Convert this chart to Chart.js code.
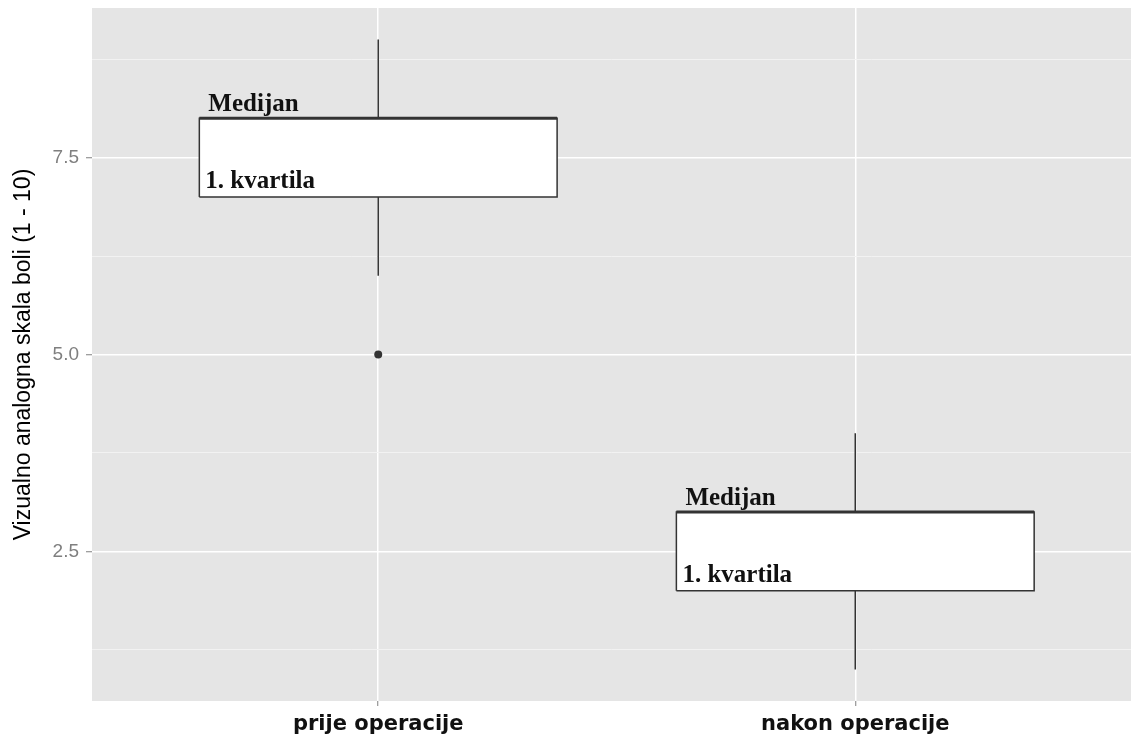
<!DOCTYPE html>
<html>
<head>
<meta charset="utf-8">
<script src="https://cdn.jsdelivr.net/npm/chart.js@4.4.1/dist/chart.umd.min.js"></script>
<style>
  html, body { margin: 0; padding: 0; background: #fff; }
  #wrap { width: 1135px; height: 735px; }
</style>
</head>
<body>
<div id="wrap"><canvas id="chart-box" width="1135" height="735"></canvas></div>
<script>
// Data
const categories = ['prije operacije', 'nakon operacije'];
const whiskerLow = [6, 1];
const q1 = [7, 2];
const median = [8, 3];
const q3 = [8, 3];
const whiskerHigh = [9, 4];
const outliers = [[5], []];

const medianLabel = 'Medijan';
const quartileLabel = '1. kvartila';

const yMajorTicks = [2.5, 5.0, 7.5];
const yMinorTicks = [1.25, 3.75, 6.25, 8.75];

const boxHalf = 0.375; // ggplot-ish box width 0.75
const dark = '#333333';

// build datasets from the arrays above
const boxData = [], medianData = [], whiskerData = [], outlierData = [];
categories.forEach((c, i) => {
  const x = i + 1;
  boxData.push({x: x - boxHalf, y: q1[i]}, {x: x + boxHalf, y: q1[i]},
    {x: x + boxHalf, y: q3[i]}, {x: x - boxHalf, y: q3[i]}, {x: x - boxHalf, y: q1[i]}, {x: x, y: null});
  medianData.push({x: x - boxHalf, y: median[i]}, {x: x + boxHalf, y: median[i]}, {x: x, y: null});
  whiskerData.push({x: x, y: q3[i]}, {x: x, y: whiskerHigh[i]}, {x: x, y: null},
    {x: x, y: whiskerLow[i]}, {x: x, y: q1[i]}, {x: x, y: null});
  outliers[i].forEach(v => outlierData.push({x: x, y: v}));
});

// grey panel behind the plot
const panelBg = {
  id: 'panelBg',
  beforeDraw(chart) {
    const {ctx, chartArea: a} = chart;
    ctx.save();
    ctx.fillStyle = '#E5E5E5';
    ctx.fillRect(a.left, a.top, a.right - a.left, a.bottom - a.top);
    ctx.restore();
  }
};

// "Medijan" / "1. kvartila" notes on each box
const boxNotes = {
  id: 'boxNotes',
  afterDatasetsDraw(chart) {
    const {ctx, scales: {x, y}} = chart;
    ctx.save();
    ctx.font = 'bold 25px "Liberation Serif", "DejaVu Serif", serif';
    ctx.fillStyle = '#111';
    ctx.textBaseline = 'alphabetic';
    categories.forEach((c, i) => {
      const left = x.getPixelForValue(i + 1 - boxHalf);
      ctx.fillText(medianLabel, left + 9, y.getPixelForValue(median[i]) - 7);
      ctx.fillText(quartileLabel, left + 6, y.getPixelForValue(q1[i]) - 9);
    });
    ctx.restore();
  }
};

const ctx = document.getElementById('chart-box').getContext('2d');
const painChart = new Chart(ctx, {
  type: 'scatter',
  data: {
    datasets: [
      {
        label: 'outliers',
        data: outlierData,
        showLine: false,
        pointRadius: 4,
        pointBackgroundColor: dark,
        pointBorderWidth: 0,
        order: 0,
      },
      {
        label: 'median',
        data: medianData,
        showLine: true,
        spanGaps: false,
        borderColor: dark,
        borderWidth: 3,
        pointRadius: 0,
        order: 1,
      },
      {
        label: 'box',
        data: boxData,
        showLine: true,
        spanGaps: false,
        borderColor: dark,
        borderWidth: 1.5,
        backgroundColor: '#ffffff',
        fill: 'shape',
        pointRadius: 0,
        order: 2,
      },
      {
        label: 'whiskers',
        data: whiskerData,
        showLine: true,
        spanGaps: false,
        borderColor: dark,
        borderWidth: 1.5,
        pointRadius: 0,
        order: 3,
      },
    ],
  },
  options: {
    responsive: false,
    devicePixelRatio: 1,
    animation: false,
    layout: { padding: { top: 8, right: 0, left: 0, bottom: 0 } },
    plugins: {
      legend: { display: false },
      tooltip: { enabled: false },
    },
    scales: {
      x: {
        type: 'linear',
        min: 0.4,
        max: 2.578, // panel is cut off a little on the right in the original
        afterBuildTicks: (scale) => {
          scale.ticks = categories.map((c, i) => ({ value: i + 1 }));
        },
        afterFit: (scale) => {
          scale.height = 34;
          scale.paddingLeft = 0;
          scale.paddingRight = 0;
        },
        border: { display: false },
        grid: {
          color: '#ffffff',
          lineWidth: 1.5,
          tickColor: '#7f7f7f',
          tickLength: 5,
          tickWidth: 1,
        },
        ticks: {
          autoSkip: false,
          maxRotation: 0,
          padding: 6,
          color: '#111',
          font: { family: '"DejaVu Sans", sans-serif', weight: 'bold', size: 21 },
          callback: (v) => categories[Math.round(v) - 1],
        },
      },
      y: {
        type: 'linear',
        min: 0.6,
        max: 9.4,
        afterBuildTicks: (scale) => {
          scale.ticks = yMajorTicks.concat(yMinorTicks).sort((a, b) => a - b).map(v => ({ value: v }));
        },
        afterFit: (scale) => {
          scale.width = 92;
          scale.paddingTop = 0;
          scale.paddingBottom = 0;
        },
        border: { display: false },
        title: {
          display: true,
          text: 'Vizualno analogna skala boli (1 - 10)',
          color: '#000',
          padding: { top: 10, bottom: 0 },
          font: { family: '"Liberation Sans", Arial, sans-serif', size: 23 },
        },
        grid: {
          color: (c) => yMajorTicks.includes(c.tick.value) ? '#ffffff' : '#F2F2F2',
          lineWidth: (c) => yMajorTicks.includes(c.tick.value) ? 1.5 : 1,
          tickColor: (c) => yMajorTicks.includes(c.tick.value) ? '#7f7f7f' : 'rgba(0,0,0,0)',
          tickLength: 6,
          tickWidth: 1,
        },
        ticks: {
          autoSkip: false,
          padding: 7,
          color: '#7f7f7f',
          font: { family: '"Liberation Sans", Arial, sans-serif', size: 19 },
          callback: (v) => yMajorTicks.includes(v) ? v.toFixed(1) : '',
        },
      },
    },
  },
  plugins: [panelBg, boxNotes],
});
</script>
</body>
</html>
